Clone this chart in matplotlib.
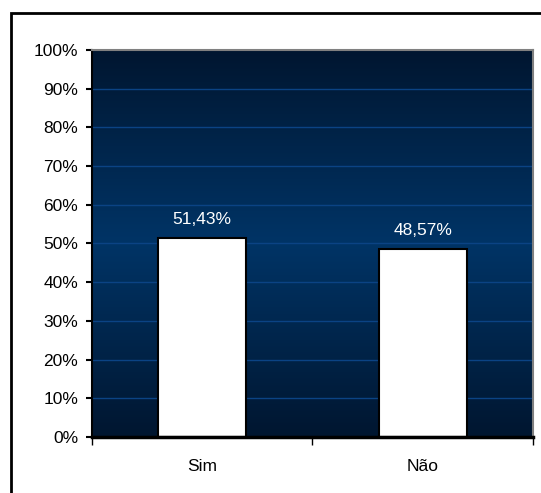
import numpy as np
import matplotlib.pyplot as plt
from matplotlib.colors import LinearSegmentedColormap
from matplotlib.patches import Rectangle

plt.rcParams['font.family'] = ['Liberation Sans', 'DejaVu Sans']

categories = ['Sim', 'Não']
values = [51.43, 48.57]
labels = ['51,43%', '48,57%']
yticks = list(range(0, 101, 10))

fig = plt.figure(figsize=(5.41, 4.93), dpi=100)
ax = fig.add_axes([0.170, 0.1136, 0.815, 0.785])

# outer frame around the chart (right and bottom edges fall off the canvas)
fig.patches.append(Rectangle((11 / 541, -0.1), 1.2, (493 - 13) / 493 + 0.1,
                             transform=fig.transFigure, fill=False,
                             edgecolor='black', linewidth=2, zorder=0))

# vertical background gradient: dark at top and bottom, lighter blue in the middle
cmap = LinearSegmentedColormap.from_list(
    'navy', [(0.0, '#011630'), (0.5, '#003466'), (1.0, '#011630')])
grad = np.linspace(0, 1, 256).reshape(-1, 1)
ax.imshow(grad, cmap=cmap, aspect='auto', extent=(-0.5, 1.5, 0, 100),
          origin='lower', zorder=0)

for y in yticks[1:-1]:
    ax.axhline(y, color='#0b4384', linewidth=1.0, zorder=1)

x = np.arange(len(categories))
ax.bar(x, values, width=0.4, color='white', edgecolor='black',
       linewidth=1.5, zorder=2)
for xi, v, lab in zip(x, values, labels):
    ax.text(xi, v + 2.8, lab, ha='center', va='bottom', color='white',
            fontsize=12.5, zorder=3)

ax.set_xlim(-0.5, 1.5)
ax.set_ylim(0, 100)
ax.set_yticks(yticks)
ax.set_yticklabels([f'{t}%' for t in yticks], fontsize=12.5)
ax.set_xticks(x)
ax.set_xticklabels(categories, fontsize=12.5)
ax.tick_params(axis='x', length=0, pad=15.5)
ax.set_xticks([-0.5, 0.5, 1.5], minor=True)
ax.tick_params(axis='x', which='minor', length=6, width=1, direction='out')
ax.tick_params(axis='y', length=4, width=1.5, direction='out', pad=6)

ax.spines['top'].set_color('#808080')
ax.spines['right'].set_color('#808080')
ax.spines['top'].set_linewidth(1.5)
ax.spines['right'].set_linewidth(1.5)
ax.spines['left'].set_linewidth(1.5)
ax.spines['bottom'].set_linewidth(2.5)

fig.savefig('out.png', dpi=100)
